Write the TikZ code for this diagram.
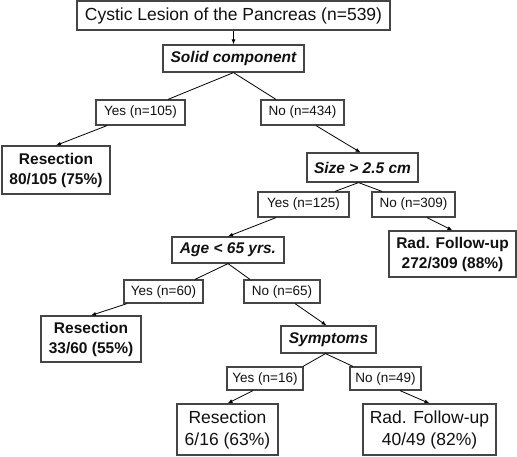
\documentclass[tikz,border=0pt]{standalone}
\usepackage{fontspec}
\setmainfont{Liberation Sans}
\usetikzlibrary{arrows.meta}
\definecolor{ink}{HTML}{111111}
\definecolor{frame}{HTML}{454545}

\begin{document}
\begin{tikzpicture}[x=1pt,y=-1pt,
  box/.style={draw=frame, line width=1.2pt, fill=white, text=ink, inner sep=0pt, align=center},
  question/.style={box, font=\fontsize{15.5}{18}\selectfont\bfseries\itshape},
  answer/.style={box, font=\fontsize{13.5}{16}\selectfont},
  outcome/.style={box, font=\fontsize{15.5}{20}\selectfont\bfseries},
  final/.style={box, font=\fontsize{17.5}{22}\selectfont},
  link/.style={draw=black, line width=0.8pt},
  arrow/.style={link, -{Latex[length=5pt,width=4pt]}}]
  \useasboundingbox (0,0) rectangle (517,456);

  % root and first split
  \node[box, font=\fontsize{17.5}{20}\selectfont, minimum width=313pt, minimum height=29pt] (root) at (233.5,15.5) {Cystic Lesion of the Pancreas (n=539)};
  \node[question, minimum width=141pt, minimum height=27pt] (solid) at (233.5,58.5) {Solid component};
  \node[answer, minimum width=89pt, minimum height=25pt] (yesA) at (140.5,112.5) {Yes (n=105)};
  \node[answer, minimum width=83pt, minimum height=25pt] (noA) at (302.5,112.5) {No (n=434)};
  \node[outcome, minimum width=108pt, minimum height=48pt] (resA) at (56,170) {Resection\\80/105 (75\%)};

  % size split
  \node[question, minimum width=111pt, minimum height=29pt] (size) at (362.5,167.5) {Size > 2.5 cm};
  \node[answer, minimum width=91pt, minimum height=25pt] (yesB) at (303.5,204.5) {Yes (n=125)};
  \node[answer, minimum width=83pt, minimum height=25pt] (noB) at (413.5,204.5) {No (n=309)};
  \node[outcome, minimum width=127pt, minimum height=46pt] (radA) at (452.5,254) {Rad. Follow-up\\272/309 (88\%)};

  % age split
  \node[question, minimum width=112pt, minimum height=26pt] (age) at (228,250) {Age < 65 yrs.};
  \node[answer, minimum width=79pt, minimum height=23pt] (yesC) at (163.5,291.5) {Yes (n=60)};
  \node[answer, minimum width=76pt, minimum height=23pt] (noC) at (282,291.5) {No (n=65)};
  \node[outcome, minimum width=100pt, minimum height=46pt] (resB) at (91,339) {Resection\\33/60 (55\%)};

  % symptoms split
  \node[question, minimum width=95pt, minimum height=27pt] (symp) at (328.5,339.5) {Symptoms};
  \node[answer, minimum width=76pt, minimum height=23pt] (yesD) at (265,378.5) {Yes (n=16)};
  \node[answer, minimum width=71pt, minimum height=23pt] (noD) at (385.5,378.5) {No (n=49)};
  \node[final, minimum width=101pt, minimum height=51pt] (resC) at (227.5,429.5) {Resection\\6/16 (63\%)};
  \node[final, minimum width=133pt, minimum height=51pt] (radB) at (429.5,429.5) {Rad. Follow-up\\40/49 (82\%)};

  \draw[arrow] (root) -- (solid);
  \draw[link] (solid.south) -- ([xshift=27.5pt]yesA.north);
  \draw[link] (solid.south) -- ([xshift=-26.5pt]noA.north);
  \draw[arrow] ([xshift=-33.5pt]yesA.south) -- (resA.north);
  \draw[arrow] ([xshift=13.5pt]noA.south) -- ([xshift=-2pt]size.north);
  \draw[link] ([xshift=-4pt]size.south) -- ([xshift=31.5pt]yesB.north);
  \draw[link] ([xshift=-4pt]size.south) -- ([xshift=-31.5pt]noB.north);
  \draw[arrow] ([xshift=-27.5pt]yesB.south) -- (age.north);
  \draw[arrow] ([xshift=13.5pt]noB.south) -- (radA.north);
  \draw[link] (age.south) -- ([xshift=31.5pt]yesC.north);
  \draw[link] (age.south) -- ([xshift=-32pt]noC.north);
  \draw[arrow] ([xshift=-36.5pt]yesC.south) -- (resB.north);
  \draw[arrow] ([xshift=13pt]noC.south) -- ([xshift=-2pt]symp.north);
  \draw[link] ([xshift=-3pt]symp.south) -- ([xshift=38pt]yesD.north);
  \draw[link] ([xshift=-3pt]symp.south) -- ([xshift=-32.5pt]noD.north);
  \draw[arrow] ([xshift=-12pt]yesD.south) -- (resC.north);
  \draw[arrow] ([xshift=14.5pt]noD.south) -- (radB.north);
\end{tikzpicture}
\end{document}
